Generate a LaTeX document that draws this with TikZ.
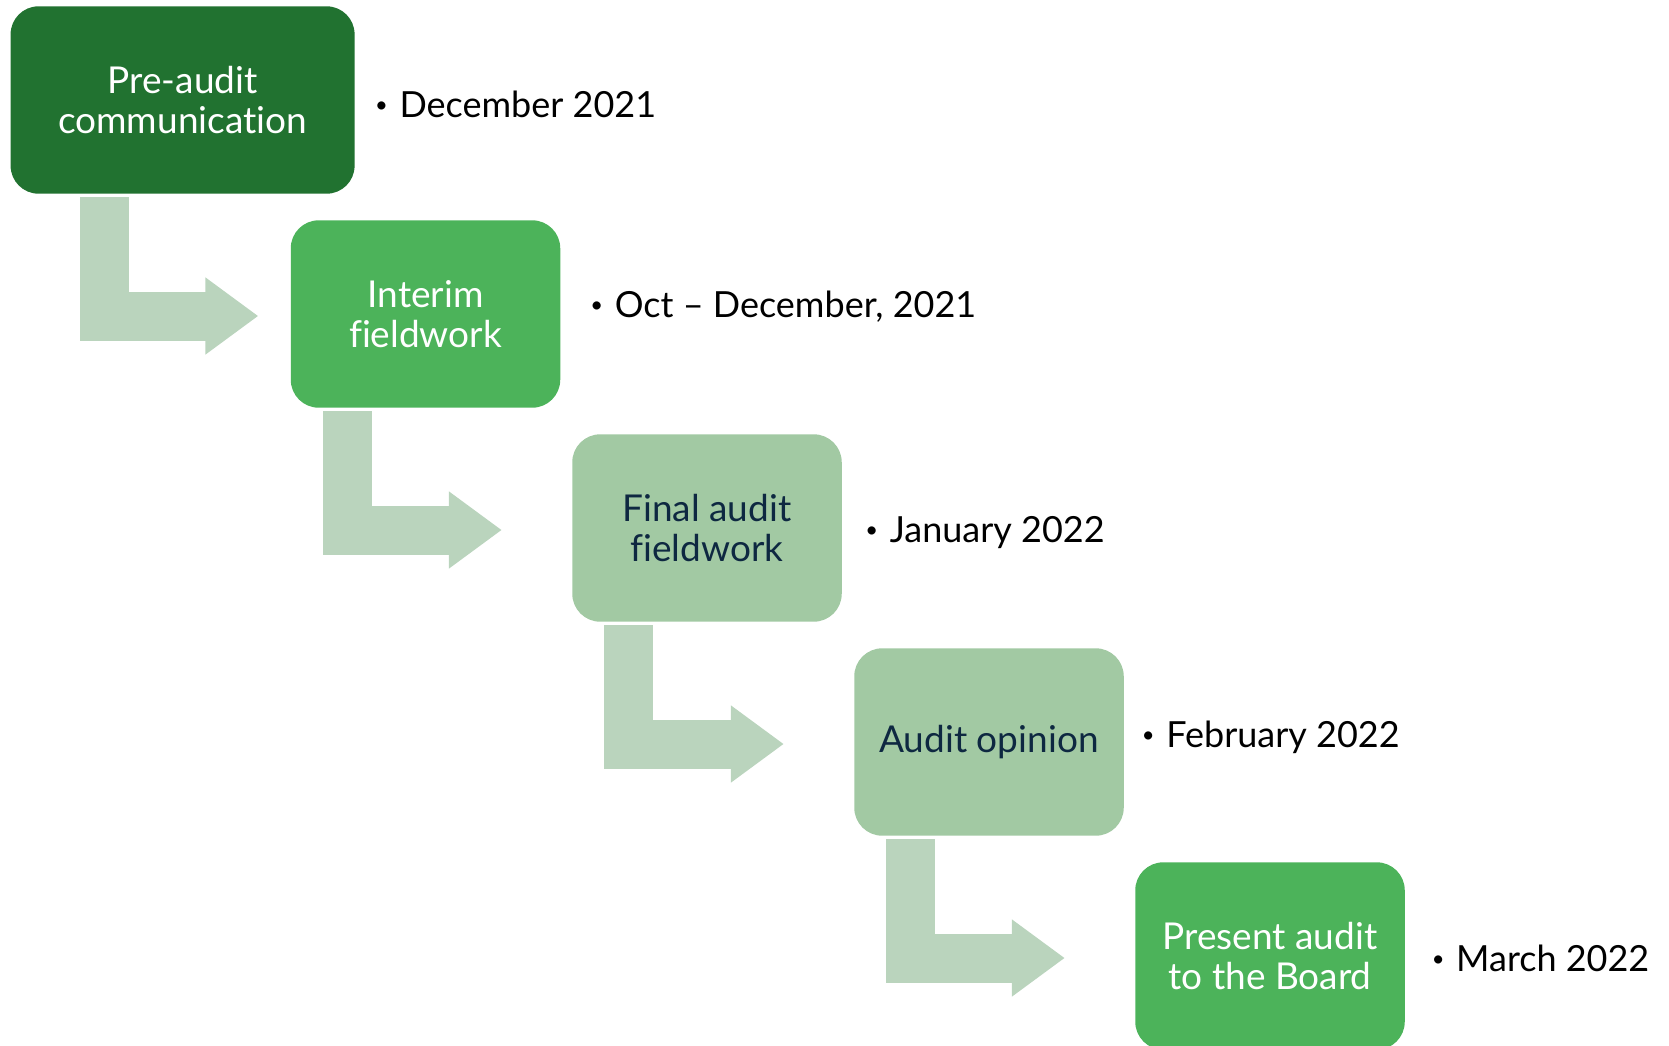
\documentclass[tikz,border=0pt]{standalone}
\usepackage{fontspec}
\setmainfont{Lato}[Ligatures=NoCommon]
\usetikzlibrary{positioning,calc,arrows.meta}

\definecolor{darkgreen}{HTML}{217230}
\definecolor{midgreen}{HTML}{4CB35A}
\definecolor{sagegreen}{HTML}{A2C9A3}
\definecolor{arrowgreen}{HTML}{BAD4BD}
\definecolor{navytext}{HTML}{0E2841}

\newcommand{\bul}{\makebox[12.2pt][l]{\fontsize{11}{11}\selectfont\raisebox{2.5pt}{•}}}

\tikzset{
  stage/.style={rounded corners=14pt, minimum height=93.7pt, align=center,
                inner sep=0pt, font=\fontsize{18.5}{20.2}\selectfont},
  date/.style={anchor=west, inner sep=0pt, font=\fontsize{18}{20}\selectfont},
  flow/.style={draw=arrowgreen, line width=24.5pt, line cap=butt, line join=miter,
               -{Triangle[length=26.5pt,width=36.8pt]}}
}

\begin{document}
\begin{tikzpicture}[x=0.5pt, y=-0.5pt]
\useasboundingbox (0,0) rectangle (1669,1045);

% stages
\node[stage, fill=darkgreen, text=white, minimum width=172pt] (pre) at (182.6,100)
    {Pre-audit\\communication};
\node[stage, fill=midgreen, text=white, minimum width=134.75pt] (interim) at (425.5,314)
    {Interim\\fieldwork};
\node[stage, fill=sagegreen, text=navytext, minimum width=134.75pt] (final) at (707,528)
    {Final audit\\fieldwork};
\node[stage, fill=sagegreen, text=navytext, minimum width=134.75pt] (opinion) at (989,742)
    {Audit opinion};
\node[stage, fill=midgreen, text=white, minimum width=134.75pt] (board) at (1270,956)
    {Present audit\\to the Board};

% dates
\node[date, right=9.85pt of pre.east, yshift=-2.2pt] (d1) {\bul December 2021};
\node[date, right=14.7pt of interim.east, yshift=3.45pt] (d2) {\bul Oct – December, 2021};
\node[date, right=11.45pt of final.east, yshift=-2.05pt] (d3) {\bul January 2022};
\node[date, right=8.65pt of opinion.east, yshift=2.45pt] (d4) {\bul February 2022};
\node[date, right=13.1pt of board.east, yshift=-1.35pt] (d5) {\bul March 2022};

% bent arrows
\foreach \from/\to/\dx/\gap in {pre/interim/93.8/32, interim/final/57/70,
                                final/opinion/57/70, opinion/board/57/70}
  \draw[flow] ($(\from.south west)+(\dx,3.2)$) |- ($(\to.west)+(-\gap,2)$);

\end{tikzpicture}
\end{document}
